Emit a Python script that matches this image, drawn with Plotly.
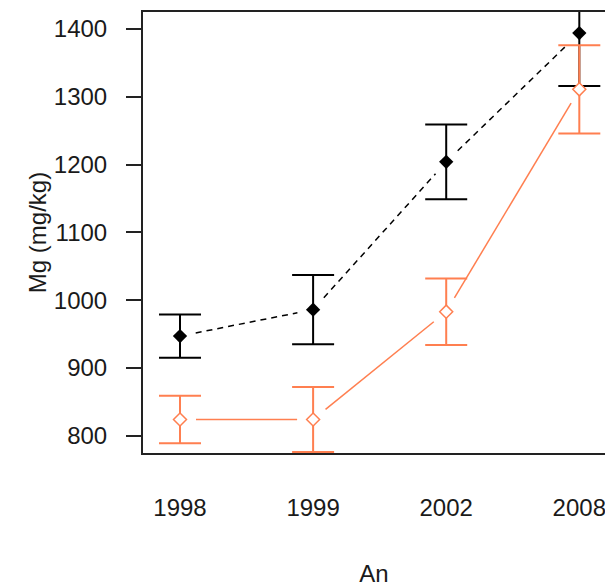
import plotly.graph_objects as go

# Magnesium concentration per sampling year, two series with +/- error
years = ["1998", "1999", "2002", "2008"]
mg_black = [947, 986, 1204, 1394]
err_black = [32, 51, 55, 78]
mg_coral = [824, 824, 983, 1311]
err_coral = [35, 48, 49, 65]

BLACK = "#000000"
CORAL = "#FF7F50"

W, H = 605, 587
M_L, M_R, M_T, M_B = 143, 0, 12, 134
X_RANGE = [-0.278, 3.193]
Y_RANGE = [774.5, 1425.1]

xs = list(range(len(years)))

plot_w = W - M_L - M_R
plot_h = H - M_T - M_B
sx = plot_w / (X_RANGE[1] - X_RANGE[0])
sy = plot_h / (Y_RANGE[1] - Y_RANGE[0])


def gapped(xv, yv, gap=16):
    """Connect consecutive points with segments that stop short of each marker."""
    out_x, out_y = [], []
    for i in range(len(xv) - 1):
        dx = (xv[i + 1] - xv[i]) * sx
        dy = (yv[i + 1] - yv[i]) * sy
        d = (dx * dx + dy * dy) ** 0.5
        f = gap / d
        out_x += [xv[i] + (xv[i + 1] - xv[i]) * f, xv[i + 1] - (xv[i + 1] - xv[i]) * f, None]
        out_y += [yv[i] + (yv[i + 1] - yv[i]) * f, yv[i + 1] - (yv[i + 1] - yv[i]) * f, None]
    return out_x, out_y


fig = go.Figure()

bx, by = gapped(xs, mg_black)
fig.add_trace(go.Scatter(x=bx, y=by, mode="lines",
                         line=dict(color=BLACK, width=1.5, dash="6px,5px"),
                         hoverinfo="skip", showlegend=False))
fig.add_trace(go.Scatter(
    x=xs, y=mg_black, mode="markers",
    marker=dict(symbol="diamond", size=11, color=BLACK),
    error_y=dict(type="data", array=err_black, color=BLACK, thickness=2, width=21),
    showlegend=False))

cx, cy = gapped(xs, mg_coral)
fig.add_trace(go.Scatter(x=cx, y=cy, mode="lines",
                         line=dict(color=CORAL, width=1.5),
                         hoverinfo="skip", showlegend=False))
fig.add_trace(go.Scatter(
    x=xs, y=mg_coral, mode="markers",
    marker=dict(symbol="diamond", size=10, color="white",
                line=dict(color=CORAL, width=1.5)),
    error_y=dict(type="data", array=err_coral, color=CORAL, thickness=2, width=21),
    showlegend=False))

font = dict(family="Liberation Sans, Arial, sans-serif", size=24, color="#1a1a1a")

fig.update_layout(
    width=W, height=H,
    margin=dict(l=M_L, r=M_R, t=M_T, b=M_B, pad=0),
    paper_bgcolor="white", plot_bgcolor="white",
    font=font,
    xaxis=dict(
        range=X_RANGE, tickmode="array", tickvals=xs, ticktext=years,
        showgrid=False, zeroline=False,
        showline=True, mirror=True, linecolor="#222222", linewidth=2,
        ticks="", ticklabelstandoff=32, ticklabeloverflow="allow",
        title=dict(text="An", standoff=45, font=font),
    ),
    yaxis=dict(
        range=Y_RANGE, tickmode="array",
        tickvals=[800, 900, 1000, 1100, 1200, 1300, 1400],
        showgrid=False, zeroline=False,
        showline=True, mirror=False, linecolor="#222222", linewidth=2,
        ticks="outside", ticklen=15, tickwidth=2, tickcolor="#222222",
        ticklabelstandoff=14,
        title=dict(text="Mg (mg/kg)", standoff=0, font=font),
    ),
)

fig.write_html("out.html")
